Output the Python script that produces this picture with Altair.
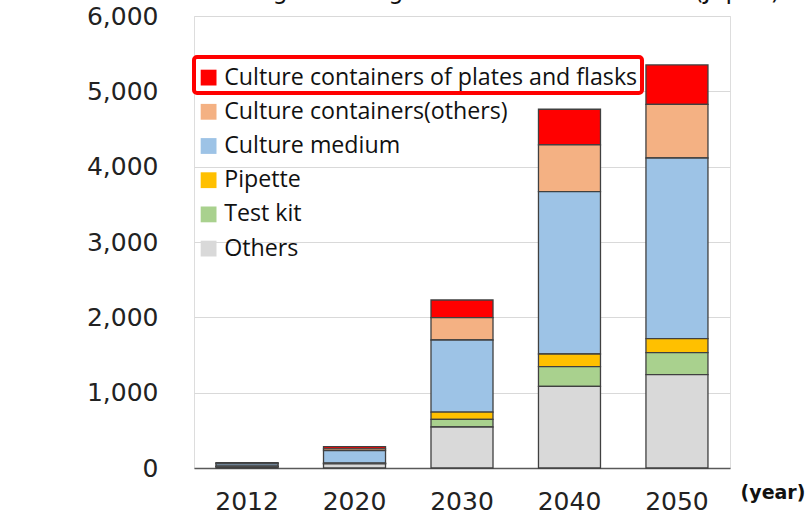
import altair as alt
import pandas as pd

years = ["2012", "2020", "2030", "2040", "2050"]
categories = [
    "Culture containers of plates and flasks",
    "Culture containers(others)",
    "Culture medium",
    "Pipette",
    "Test kit",
    "Others",
]
colors = ["#FF0000", "#F4B183", "#9DC3E6", "#FFC000", "#A9D18E", "#D9D9D9"]

plates = [7, 30, 235, 474, 522]
cont_others = [8, 25, 296, 620, 713]
medium = [30, 165, 956, 2155, 2398]
pipette = [5, 5, 97, 168, 186]
test_kit = [5, 5, 102, 261, 292]
others = [15, 55, 544, 1084, 1239]

series = [plates, cont_others, medium, pipette, test_kit, others]
rows = []
for ci, (cat, vals) in enumerate(zip(categories, series)):
    for y, v in zip(years, vals):
        rows.append({"year": y, "category": cat, "value": v, "order": len(categories) - ci})
df = pd.DataFrame(rows)

bars = alt.Chart(df).mark_bar(stroke="#404040", strokeWidth=1.3).encode(
    x=alt.X("year:N", sort=years,
            scale=alt.Scale(paddingInner=0.423, paddingOuter=0.205),
            axis=alt.Axis(title=None, labelAngle=0, labelFont="DejaVu Sans", labelFontSize=25,
                          labelColor="#222222", labelPadding=21, ticks=False,
                          domainColor="#595959", domainWidth=1.5)),
    y=alt.Y("value:Q", stack="zero",
            scale=alt.Scale(domain=[0, 6000]),
            axis=alt.Axis(title=None, values=[0, 1000, 2000, 3000, 4000, 5000, 6000], format=",.0f",
                          labelFont="DejaVu Sans", labelFontSize=25, labelColor="#222222",
                          labelPadding=36, ticks=False, domain=False,
                          gridColor="#D9D9D9", gridWidth=1)),
    color=alt.Color("category:N",
                    scale=alt.Scale(domain=categories, range=colors),
                    legend=alt.Legend(title=None, orient="none", legendX=3, legendY=50,
                                      symbolType="square", symbolSize=250, symbolStrokeWidth=0,
                                      labelFont="Open Sans", labelFontSize=23.2, labelColor="#111111",
                                      rowPadding=10.2, labelOffset=4, padding=0,
                                      labelLimit=600)),
    order=alt.Order("order:Q", sort="ascending"),
)

dummy = pd.DataFrame({"k": [0]})

red_box = alt.Chart(dummy).mark_rect(fill=None, stroke="#FF0000", strokeWidth=4, cornerRadius=3).encode(
    x=alt.value(0), x2=alt.value(448), y=alt.value(41), y2=alt.value(77)
)

title_text = alt.Chart(dummy).mark_text(
    text="Regenerating medicine consumables (Japan)",
    font="DejaVu Sans", fontSize=24, align="right", baseline="alphabetic", color="#111111"
).encode(x=alt.value(586), y=alt.value(-17))

year_text = alt.Chart(dummy).mark_text(
    text="(year)", font="DejaVu Sans", fontSize=19, fontWeight="bold", align="center",
    baseline="middle", color="#111111"
).encode(x=alt.value(579), y=alt.value(477))

chart = alt.layer(bars, red_box, title_text, year_text).properties(
    width=536, height=452,
    autosize=alt.AutoSizeParams(type="none"),
    padding={"left": 194, "top": 16, "right": 79, "bottom": 46},
).configure_view(stroke="#595959", strokeWidth=1.5).configure(background="white")

chart.save("out.html", embed_options={"renderer": "svg", "actions": False})
